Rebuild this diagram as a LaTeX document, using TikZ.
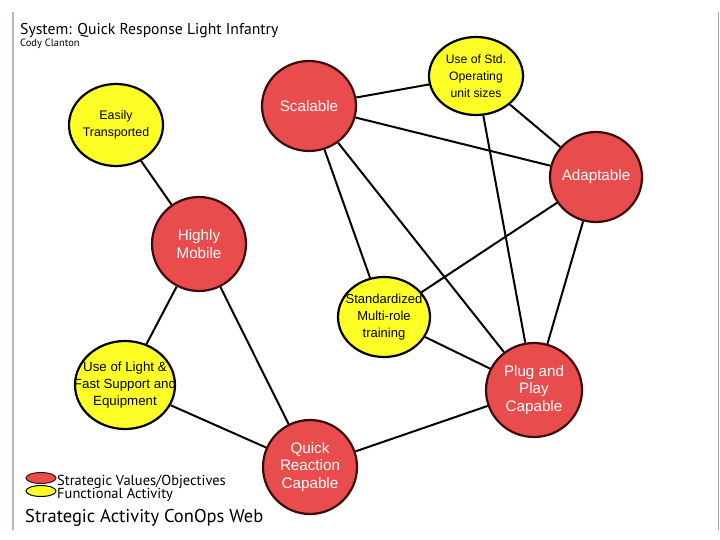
\documentclass[tikz,border=0pt]{standalone}
\usepackage{fontspec}
\setmainfont{Liberation Sans}
\newfontfamily\titlefont{PT Sans}
\usetikzlibrary{shapes.geometric}
\definecolor{nodered}{RGB}{232,76,76}
\definecolor{noderedline}{RGB}{60,12,12}
\definecolor{nodeyellow}{RGB}{255,255,40}
\definecolor{barcolor}{RGB}{178,182,192}
\definecolor{rbar}{RGB}{165,165,165}
\begin{document}
\begin{tikzpicture}[x=1pt,y=-1pt,
  strat/.style={ellipse, draw=noderedline, line width=2.2pt, fill=nodered, inner sep=0pt},
  func/.style={ellipse, draw=black, line width=2.2pt, fill=nodeyellow, inner sep=0pt},
  stxt/.style={text=white, align=center, font=\fontsize{15.2}{17.5}\selectfont, inner sep=0pt},
  ftxt/.style={text=black, align=center, inner sep=0pt},
  link/.style={line width=2pt, black},
  leg/.style={ellipse, inner sep=0pt, line width=1pt, minimum width=30pt, minimum height=11pt},
  legtxt/.style={anchor=base west, inner sep=0pt, font=\titlefont\fontsize{14.5}{16}\selectfont}]
\useasboundingbox[fill=white] (0,0) rectangle (720,540);
\draw[barcolor, line width=2.5pt] (13,12) coordinate (lbt) -- (13,530) coordinate (lbb);
\draw[rbar, line width=1.5pt] (718.5,12) coordinate (rbt) -- (718.5,530) coordinate (rbb);

% title
\node[anchor=base west, inner sep=0pt, font=\titlefont\fontsize{15.7}{19}\selectfont] (title) at (20,35) {System: Quick Response Light Infantry};
\node[anchor=base west, inner sep=0pt, font=\titlefont\fontsize{10.5}{12}\selectfont] (author) at (20,47) {Cody Clanton};

% nodes
\node[strat, minimum width=94pt, minimum height=90pt, label={[stxt]center:Scalable}] (scal) at (309,106) {};
\node[func, minimum width=94pt, minimum height=78pt, label={[ftxt, font=\fontsize{12.2}{17}\selectfont]center:{Use of Std.\\Operating\\unit sizes}}] (std) at (476,76) {};
\node[func, minimum width=94pt, minimum height=82pt, label={[ftxt, font=\fontsize{12.4}{17}\selectfont]center:{Easily\\Transported}}] (easy) at (116,125) {};
\node[strat, minimum width=92pt, minimum height=90pt, label={[stxt]center:Adaptable}] (adap) at (596,177) {};
\node[strat, minimum width=94pt, minimum height=94pt, label={[stxt]center:{Highly\\Mobile}}] (mob) at (199,244) {};
\node[func, minimum width=92pt, minimum height=80pt, label={[ftxt, font=\fontsize{13}{17}\selectfont]center:{Standardized\\Multi-role\\training}}] (train) at (384,317) {};
\node[func, minimum width=100pt, minimum height=88pt, label={[ftxt, font=\fontsize{13.3}{17}\selectfont]center:{Use of Light \&\\Fast Support and\\Equipment}}] (light) at (125,385) {};
\node[strat, minimum width=96pt, minimum height=94pt, label={[stxt]center:{Plug and\\Play\\Capable}}] (plug) at (534,390) {};
\node[strat, minimum width=94pt, minimum height=94pt, label={[stxt]center:{Quick\\Reaction\\Capable}}] (quick) at (310,467) {};

% links
\draw[link] (scal) -- (std);
\draw[link] (scal) -- (adap);
\draw[link] (scal) -- (train);
\draw[link] (scal) -- (plug);
\draw[link] (std) -- (plug);
\draw[link] (std) -- (adap);
\draw[link] (adap) -- (train);
\draw[link] (adap) -- (plug);
\draw[link] (easy) -- (mob);
\draw[link] (mob) -- (light);
\draw[link] (mob) -- (quick);
\draw[link] (light) -- (quick);
\draw[link] (quick) -- (plug);
\draw[link] (train) -- (plug);

% legend
\node[leg, draw=noderedline, fill=nodered] (legr) at (41,478) {};
\node[leg, draw=black, fill=nodeyellow] (legy) at (41,491) {};
\node[legtxt] (legrt) at (57,485) {Strategic Values/Objectives};
\node[legtxt] (legyt) at (57,498) {Functional Activity};
\node[anchor=base west, inner sep=0pt, font=\titlefont\fontsize{18.5}{20}\selectfont] (caption) at (25,522) {Strategic Activity ConOps Web};
\end{tikzpicture}
\end{document}
